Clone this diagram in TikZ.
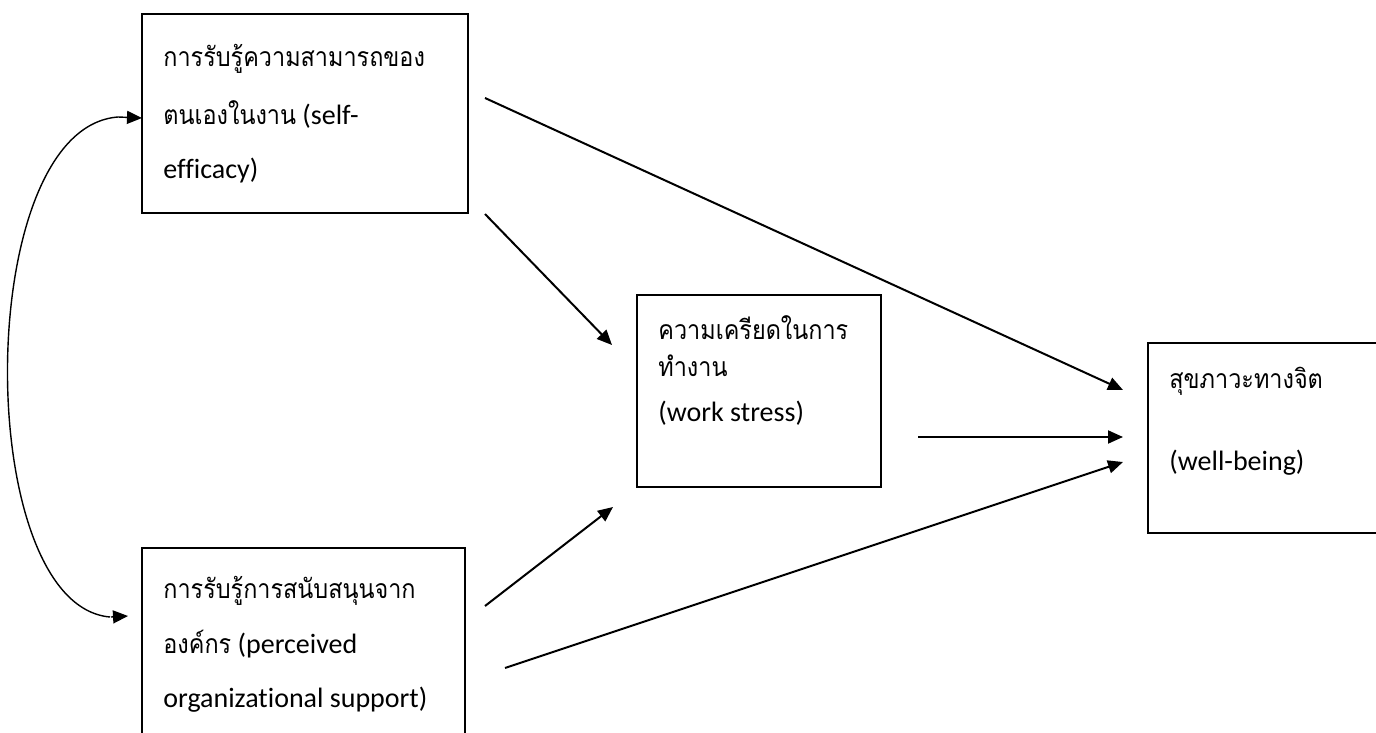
\documentclass[tikz,border=0pt]{standalone}
\usepackage{fontspec}
\setmainfont{Carlito}[Ligatures=NoCommon]
\newfontfamily\thaifont[Script=Thai,Scale=0.95,FakeStretch=0.88]{Loma}
\usetikzlibrary{arrows.meta,fit}
\begin{document}
\begin{tikzpicture}[x=0.5pt,y=-0.5pt,
  box/.style={draw, line width=0.8pt, inner sep=0pt},
  txt/.style={anchor=base west, inner sep=0pt, font=\fontsize{14}{16}\selectfont},
  arr/.style={line width=1pt, -{Triangle[length=7.5pt,width=6.5pt]}},
  curvearr/.style={line width=0.7pt, -{Triangle[length=7.5pt,width=6.5pt]}}]
\useasboundingbox (0,0) rectangle (1376,733);
% boxes
\node[box, fit={(142,14)(468,213)}] (se) {};
\node[box, fit={(142,548)(465,780)}] (pos) {};
\node[box, fit={(637,295)(881,487)}] (ws) {};
\node[box, fit={(1148,343)(1420,533)}] (wb) {};
% texts
\node[txt] (se1) at (163,67) {\thaifont การรับรู้ความสามารถของ};
\node[txt] (se2) at (163,125) {{\thaifont ตนเองในงาน} (self-};
\node[txt] (se3) at (163,178) {efficacy)};
\node[txt] (pos1) at (163,598) {\thaifont การรับรู้การสนับสนุนจาก};
\node[txt] (pos2) at (163,653) {{\thaifont องค์กร} (perceived};
\node[txt] (pos3) at (163,707) {organizational support)};
\node[txt] (ws1) at (658,339) {\thaifont ความเครียดในการ};
\node[txt] (ws2) at (658,376) {\thaifont ทำงาน};
\node[txt] (ws3) at (658,421) {(work stress)};
\node[txt] (wb1) at (1169,388) {\thaifont สุขภาวะทางจิต};
\node[txt] (wb2) at (1169,470) {(well-being)};
% connector end points
\coordinate (a1s) at (485,98);
\coordinate (a1e) at (1123,390);
\coordinate (a2s) at (485,214);
\coordinate (a2e) at (612,345);
\coordinate (a3s) at (918,437);
\coordinate (a3e) at (1123,437);
\coordinate (a4s) at (485,606);
\coordinate (a4e) at (613,507);
\coordinate (a5s) at (505,668);
\coordinate (a5e) at (1123,462);
\coordinate (cTop) at (142,118);
\coordinate (cBot) at (128,616);
\coordinate (cMid) at (110,617);
% arrows
\draw[arr] (a1s) -- (a1e);
\draw[arr] (a2s) -- (a2e);
\draw[arr] (a3s) -- (a3e);
\draw[arr] (a4s) -- (a4e);
\draw[arr] (a5s) -- (a5e);
% double-headed curved arrow
\draw[curvearr] (cMid) .. controls (-28,605) and (-28,128) .. (118,117) -- (cTop);
\draw[curvearr] (111,617) -- (cBot);
\end{tikzpicture}
\end{document}
